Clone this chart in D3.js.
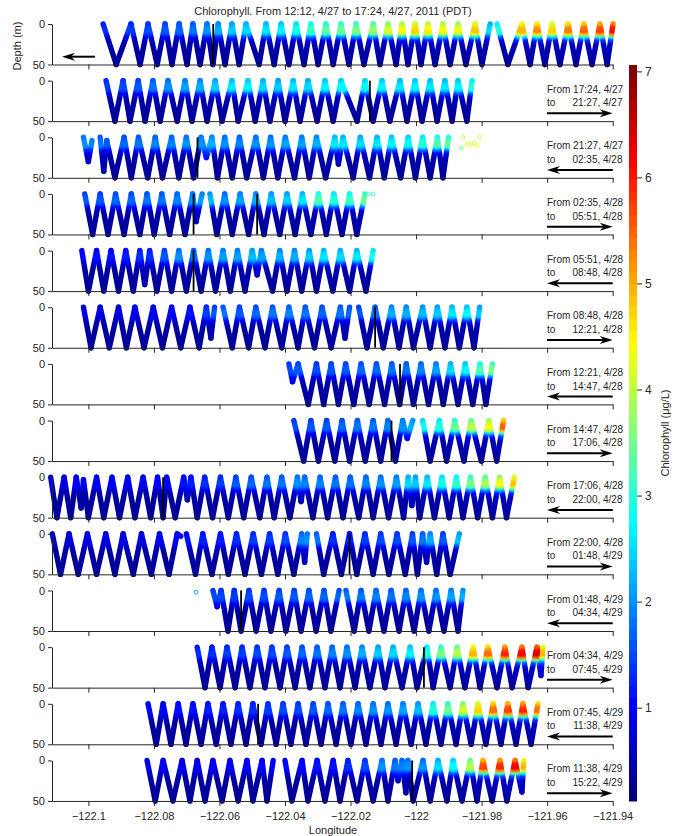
<!DOCTYPE html>
<html><head><meta charset="utf-8">
<script src="https://cdn.jsdelivr.net/npm/d3@7"></script>
<style>
body{margin:0;background:#fff}
svg text{font-family:"Liberation Sans",Arial,Helvetica,sans-serif;fill:#262626}
</style></head>
<body><svg id="c" width="682" height="836"></svg>
<script>
// ---------------- data ----------------
const titleText = "Chlorophyll. From 12:12, 4/27 to 17:24, 4/27, 2011 (PDT)";
const lonDomain = [-122.1111, -121.94];
const depthDomain = [0, 50];
const lonTicks = [-122.1, -122.08, -122.06, -122.04, -122.02, -122, -121.98, -121.96, -121.94];
const depthTicks = [0, 50];
const cbDomain = [0.12, 7.06];
const cbTicks = [1, 2, 3, 4, 5, 6, 7];
const panelFrom = ["12:12, 4/27","17:24, 4/27","21:27, 4/27","02:35, 4/28","05:51, 4/28","08:48, 4/28","12:21, 4/28","14:47, 4/28","17:06, 4/28","22:00, 4/28","01:48, 4/29","04:34, 4/29","07:45, 4/29","11:38, 4/29"];
const panelTo   = ["17:24, 4/27","21:27, 4/27","02:35, 4/28","05:51, 4/28","08:48, 4/28","12:21, 4/28","14:47, 4/28","17:06, 4/28","22:00, 4/28","01:48, 4/29","04:34, 4/29","07:45, 4/29","11:38, 4/29","15:22, 4/29"];
const panelDir  = [-1, 1, -1, 1, -1, 1, -1, 1, -1, 1, -1, 1, -1, 1];
// vertical shape of the upper chlorophyll layer (relative weight vs depth)
const profileDepth  = [0, 4, 10, 13, 16, 20, 25, 50];
const profileWeight = [0.85, 0.97, 1, 0.85, 0.5, 0.2, 0.05, 0];

// tracks: runs of [longitude, depth (m), chlorophyll (ug/L)]
const track1 = [
 [[-122.0955,0,1.3],[-122.0915,50,.3],[-122.0870,0,1.4],[-122.0842,50,.3],[-122.0818,0,1.5],[-122.0790,50,.3],[-122.0766,0,1.6],[-122.0745,50,.3],[-122.0723,0,1.7],[-122.0699,50,.3],[-122.0681,0,1.8],[-122.0659,50,.3],[-122.0638,0,2.0],[-122.0620,50,.3],[-122.0604,0,2.2],[-122.0583,50,.3],[-122.0562,0,2.4],[-122.0540,50,.3],[-122.0519,0,2.5],[-122.0479,50,.3],[-122.0458,0,2.6],[-122.0433,50,.3],[-122.0412,0,2.7],[-122.0388,50,.3],[-122.0366,0,2.9],[-122.0342,50,.3],[-122.0321,0,3.2],[-122.0299,50,.3],[-122.0275,0,3.4],[-122.0253,50,.3],[-122.0229,0,3.5],[-122.0205,50,.3],[-122.0183,0,3.6],[-122.0159,50,.3],[-122.0131,0,3.8],[-122.0110,50,.3],[-122.0086,0,4.2],[-122.0061,50,.3],[-122.0043,0,4.5],[-122.0025,50,.3],[-122.0003,0,4.8],[-121.9985,50,.3],[-121.9964,0,4.6],[-121.9942,50,.3],[-121.9918,0,4.5],[-121.9896,50,.3],[-121.9872,0,4.4],[-121.9848,50,.3],[-121.9820,0,4.9],[-121.9799,50,.3],[-121.9774,0,2.5]],
 [[-121.9753,0,3.0],[-121.9720,50,.3],[-121.9677,0,5.0],[-121.9652,50,.3],[-121.9631,0,5.3],[-121.9607,50,.3],[-121.9585,0,4.8],[-121.9561,50,.3],[-121.9536,0,5.4],[-121.9512,50,.3],[-121.9488,0,5.6],[-121.9463,50,.3],[-121.9439,0,5.8],[-121.9417,50,.3],[-121.9399,0,6.2]]
];
const track2 = [
 [[-122.0946,0,1.4],[-122.0919,50,.3],[-122.0894,0,1.5],[-122.0873,50,.3],[-122.0848,0,1.6],[-122.0827,50,.3],[-122.0803,0,1.8],[-122.0781,50,.3],[-122.0757,0,2.0],[-122.0729,50,.3],[-122.0705,0,2.1],[-122.0684,50,.3],[-122.0659,0,2.2],[-122.0638,50,.3],[-122.0613,0,2.4],[-122.0592,50,.3],[-122.0562,0,2.6],[-122.0543,50,.3],[-122.0513,0,2.7],[-122.0491,50,.3],[-122.0467,0,2.5],[-122.0446,50,.3],[-122.0421,0,2.4],[-122.0400,50,.3],[-122.0375,0,2.6],[-122.0354,50,.3],[-122.0330,0,2.5],[-122.0302,50,.3],[-122.0278,0,2.7],[-122.0253,50,.3],[-122.0229,0,2.8],[-122.0180,50,.3],[-122.0156,0,2.8],[-122.0131,50,.3],[-122.0104,0,2.7],[-122.0080,50,.3],[-122.0049,0,2.6],[-122.0028,50,.3],[-122.0003,0,2.7],[-121.9982,50,.3],[-121.9957,0,2.6],[-121.9936,50,.3],[-121.9912,0,2.6],[-121.9890,50,.3],[-121.9872,0,2.7],[-121.9845,50,.3],[-121.9829,0,3.0]]
];
const track3 = [
 [[-122.1015,0,2.0],[-122.1000,30,0.5],[-122.0989,4,1.9]],
 [[-122.0964,0,1.8],[-122.0953,42,0.4],[-122.0944,4,1.6],[-122.0919,50,.3],[-122.0891,0,1.7],[-122.0869,50,.3],[-122.0847,0,1.8],[-122.0819,50,.3],[-122.0796,0,1.9],[-122.0774,50,.3],[-122.0746,0,1.9],[-122.0724,50,.3],[-122.0701,0,2.0],[-122.0679,50,.3],[-122.0656,0,2.0],[-122.0640,25,1.0],[-122.0623,0,2.2],[-122.0606,50,.3],[-122.0584,0,2.0],[-122.0561,50,.3],[-122.0539,0,1.9],[-122.0517,50,.3],[-122.0489,0,2.0],[-122.0466,50,.3],[-122.0444,0,2.0],[-122.0422,50,.3],[-122.0399,0,2.1],[-122.0371,50,.3],[-122.0349,0,2.1],[-122.0326,50,.3],[-122.0304,0,2.2],[-122.0276,50,.3],[-122.0248,0,2.6],[-122.0237,33,0.5],[-122.0223,0,2.6],[-122.0192,50,.3],[-122.0170,0,2.5],[-122.0142,50,.3],[-122.0119,0,2.6],[-122.0097,50,.3],[-122.0075,0,2.7],[-122.0047,50,.3],[-122.0024,0,2.8],[-122.0002,50,.3],[-121.9980,0,3.0],[-121.9957,50,.3],[-121.9935,0,3.3],[-121.9918,50,.3],[-121.9901,0,3.4]]
];
const track4 = [
 [[-122.1011,0,1.6],[-122.0987,50,.3],[-122.0964,0,1.6],[-122.0940,50,.3],[-122.0917,0,1.7],[-122.0891,50,.3],[-122.0869,0,1.7],[-122.0843,50,.3],[-122.0821,0,1.8],[-122.0799,50,.3],[-122.0776,0,1.8],[-122.0752,50,.3],[-122.0729,0,1.9],[-122.0705,50,.3],[-122.0682,0,2.0],[-122.0671,34,0.5],[-122.0653,0,2.1]],
 [[-122.0629,0,2.3],[-122.0608,50,.3],[-122.0584,0,2.0],[-122.0561,50,.3],[-122.0537,0,2.1],[-122.0511,50,.3],[-122.0489,0,2.2],[-122.0464,50,.3],[-122.0442,0,2.3],[-122.0416,50,.3],[-122.0394,0,2.4],[-122.0369,50,.3],[-122.0347,0,2.6],[-122.0321,50,.3],[-122.0298,0,3.3],[-122.0274,50,.3],[-122.0251,0,3.0],[-122.0226,50,.3],[-122.0203,0,3.2],[-122.0181,50,.3],[-122.0156,0,3.5]]
];
const track5 = [
 [[-122.1020,0,1.0],[-122.1000,50,.3],[-122.0975,0,1.1],[-122.0953,50,.3],[-122.0931,0,1.1],[-122.0908,50,.3],[-122.0886,0,1.2],[-122.0863,50,.3],[-122.0843,0,1.3],[-122.0828,42,0.4],[-122.0813,0,1.3],[-122.0791,50,.3],[-122.0768,0,1.6],[-122.0746,50,.3],[-122.0724,0,2.0],[-122.0701,50,.3],[-122.0679,0,1.8],[-122.0656,50,.3],[-122.0634,0,2.0],[-122.0612,50,.3],[-122.0589,0,2.1],[-122.0567,50,.3],[-122.0545,0,2.1],[-122.0522,50,.3],[-122.0500,0,2.3],[-122.0485,30,0.6],[-122.0472,0,2.1],[-122.0438,50,.3],[-122.0416,0,2.2],[-122.0394,50,.3],[-122.0371,0,2.2],[-122.0349,50,.3],[-122.0326,0,2.4],[-122.0304,50,.3],[-122.0282,0,2.6],[-122.0254,50,.3],[-122.0231,0,2.5],[-122.0203,50,.3],[-122.0181,0,2.6],[-122.0153,50,.3],[-122.0131,0,2.9]]
];
const track6 = [
 [[-122.1015,0,0.8],[-122.0992,50,.3],[-122.0964,0,0.8],[-122.0936,50,.3],[-122.0908,0,0.8],[-122.0884,50,.3],[-122.0858,0,0.9],[-122.0830,50,.3],[-122.0802,0,0.9],[-122.0774,50,.3],[-122.0746,0,1.0],[-122.0718,50,.3],[-122.0690,0,1.1],[-122.0662,50,.3],[-122.0640,0,1.4],[-122.0626,38,0.4],[-122.0615,0,1.6]],
 [[-122.0589,0,1.8],[-122.0561,50,.3],[-122.0539,0,1.6],[-122.0511,50,.3],[-122.0489,0,1.7],[-122.0461,50,.3],[-122.0438,0,1.8],[-122.0410,50,.3],[-122.0388,0,1.9],[-122.0360,50,.3],[-122.0338,0,1.8],[-122.0310,50,.3],[-122.0287,0,1.7],[-122.0259,50,.3],[-122.0231,0,1.8],[-122.0217,38,0.4],[-122.0203,0,1.7]],
 [[-122.0175,0,1.6],[-122.0150,50,.3],[-122.0125,0,1.8],[-122.0100,50,.3],[-122.0075,0,2.2],[-122.0052,50,.3],[-122.0030,0,2.2],[-122.0008,50,.3],[-121.9980,0,2.3],[-121.9957,50,.3],[-121.9935,0,2.4],[-121.9912,50,.3],[-121.9890,0,2.6],[-121.9868,50,.3],[-121.9845,0,2.7],[-121.9823,50,.3],[-121.9806,0,2.4]]
];
const track7 = [
 [[-122.0388,0,1.5],[-122.0377,22,0.6],[-122.0360,0,1.6],[-122.0329,50,.3],[-122.0304,0,1.5],[-122.0282,50,.3],[-122.0259,0,1.6],[-122.0237,50,.3],[-122.0215,0,1.6],[-122.0190,50,.3],[-122.0168,0,1.7],[-122.0143,50,.3],[-122.0121,0,1.7],[-122.0096,50,.3],[-122.0074,0,1.8],[-122.0050,50,.3],[-122.0030,0,1.8],[-122.0008,50,.3],[-121.9985,0,1.9],[-121.9962,50,.3],[-121.9939,0,2.1],[-121.9917,50,.3],[-121.9895,0,2.5],[-121.9872,50,.3],[-121.9850,0,2.7],[-121.9827,50,.3],[-121.9805,0,3.3],[-121.9787,50,.3],[-121.9767,0,3.6]]
];
const track8 = [
 [[-122.0373,0,1.5],[-122.0343,50,.3],[-122.0321,0,1.6],[-122.0298,50,.3],[-122.0273,0,1.6],[-122.0248,50,.3],[-122.0226,0,1.7],[-122.0203,50,.3],[-122.0179,0,1.8],[-122.0155,50,.3],[-122.0131,0,1.8],[-122.0108,50,.3],[-122.0086,0,1.9],[-122.0063,50,.3],[-122.0041,0,2.0],[-122.0027,22,0.7],[-122.0010,0,2.2]],
 [[-121.9980,0,2.8],[-121.9957,50,.3],[-121.9929,0,3.0],[-121.9907,50,.3],[-121.9882,0,3.5],[-121.9854,50,.3],[-121.9832,0,4.0],[-121.9801,50,.3],[-121.9778,0,4.4],[-121.9754,50,.3],[-121.9733,0,5.6]]
];
const track9 = [
 [[-122.1115,0,0.8],[-122.1096,50,.3],[-122.1074,0,0.8],[-122.1054,50,.3],[-122.1037,0,0.9],[-122.1022,38,0.4],[-122.1015,3,0.9],[-122.1000,50,.3],[-122.0975,0,0.9],[-122.0953,50,.3],[-122.0928,0,0.9],[-122.0905,50,.3],[-122.0880,0,0.9],[-122.0858,50,.3],[-122.0833,0,0.9],[-122.0810,50,.3],[-122.0789,0,1.0],[-122.0772,50,.3],[-122.0761,0,1.0],[-122.0735,50,.3],[-122.0709,0,1.1],[-122.0698,28,0.5],[-122.0687,0,1.2],[-122.0668,50,.3],[-122.0645,0,1.3],[-122.0621,50,.3],[-122.0597,0,1.4],[-122.0573,50,.3],[-122.0550,0,1.6],[-122.0526,50,.3],[-122.0503,0,1.7],[-122.0477,50,.3],[-122.0455,0,1.8],[-122.0433,50,.3],[-122.0410,0,1.8],[-122.0385,50,.3],[-122.0362,0,2.0],[-122.0351,30,0.5],[-122.0340,0,1.9],[-122.0315,50,.3],[-122.0293,0,1.9],[-122.0270,50,.3],[-122.0246,0,1.8],[-122.0223,50,.3],[-122.0201,0,1.8],[-122.0175,50,.3],[-122.0153,0,1.9],[-122.0131,50,.3],[-122.0108,0,2.0],[-122.0084,50,.3],[-122.0060,0,2.1],[-122.0038,50,.3],[-122.0024,0,2.5],[-122.0013,35,0.5],[-122.0002,0,2.4],[-121.9989,50,.3],[-121.9966,0,2.6],[-121.9944,50,.3],[-121.9921,0,2.9],[-121.9899,50,.3],[-121.9877,0,3.1],[-121.9857,50,.3],[-121.9834,0,3.6],[-121.9812,50,.3],[-121.9789,0,3.9],[-121.9767,50,.3],[-121.9745,0,4.4],[-121.9724,50,.3],[-121.9700,0,4.9]]
];
const track10 = [
 [[-122.1110,0,0.7],[-122.1085,50,.3],[-122.1059,0,0.7],[-122.1031,50,.3],[-122.1003,0,0.8],[-122.0975,50,.3],[-122.0947,0,0.8],[-122.0919,50,.3],[-122.0894,0,0.8],[-122.0863,50,.3],[-122.0838,0,0.8],[-122.0808,50,.3],[-122.0783,0,0.9],[-122.0754,50,.3],[-122.0729,0,1.0],[-122.0718,3,1.1]],
 [[-122.0701,0,1.1],[-122.0673,50,.3],[-122.0651,0,1.2],[-122.0623,50,.3],[-122.0597,0,1.2],[-122.0573,50,.3],[-122.0548,0,1.3],[-122.0522,50,.3],[-122.0497,0,1.4],[-122.0472,50,.3],[-122.0447,0,1.4],[-122.0422,50,.3],[-122.0399,0,1.5],[-122.0373,50,.3],[-122.0349,0,1.9],[-122.0340,35,0.5],[-122.0332,0,2.0]],
 [[-122.0304,0,1.8],[-122.0282,50,.3],[-122.0254,0,1.3],[-122.0228,50,.3],[-122.0203,0,1.2],[-122.0181,50,.3],[-122.0156,0,1.4],[-122.0131,50,.3],[-122.0108,0,1.5],[-122.0083,50,.3],[-122.0058,0,1.5],[-122.0033,50,.3],[-122.0011,0,1.6],[-121.9996,50,.3],[-121.9980,0,1.8],[-121.9968,35,0.5],[-121.9957,0,2.2],[-121.9937,50,.3],[-121.9918,0,1.6],[-121.9896,50,.3],[-121.9868,0,2.3]]
];
const track11 = [
 [[-122.0620,0,1.5],[-122.0607,20,0.6],[-122.0595,0,1.5],[-122.0574,50,.3],[-122.0555,0,1.4],[-122.0534,50,.3],[-122.0510,0,1.5],[-122.0488,50,.3],[-122.0464,0,1.5],[-122.0443,50,.3],[-122.0418,0,1.6],[-122.0397,50,.3],[-122.0372,0,1.6],[-122.0351,50,.3],[-122.0327,0,1.7],[-122.0305,50,.3],[-122.0281,0,1.7],[-122.0260,50,.3],[-122.0235,0,1.7]],
 [[-122.0214,0,1.8],[-122.0189,50,.3],[-122.0168,0,1.8],[-122.0144,50,.3],[-122.0122,0,1.9],[-122.0098,50,.3],[-122.0076,0,1.8],[-122.0052,50,.3],[-122.0031,0,1.9],[-122.0006,50,.3],[-121.9985,0,2.0],[-121.9961,50,.3],[-121.9939,0,2.0],[-121.9915,50,.3],[-121.9893,0,2.1],[-121.9872,50,.3],[-121.9857,0,2.2]]
];
const track12 = [
 [[-122.0668,0,1.3],[-122.0644,50,.3],[-122.0623,0,1.3],[-122.0598,50,.3],[-122.0577,0,1.4],[-122.0552,50,.3],[-122.0531,0,1.4],[-122.0507,50,.3],[-122.0485,0,1.5],[-122.0461,50,.3],[-122.0440,0,1.5],[-122.0415,50,.3],[-122.0394,0,1.6],[-122.0369,50,.3],[-122.0348,0,1.7],[-122.0324,50,.3],[-122.0302,0,1.8],[-122.0278,50,.3],[-122.0256,0,1.9],[-122.0232,50,.3],[-122.0211,0,2.0],[-122.0186,50,.3],[-122.0165,0,2.2],[-122.0141,50,.3],[-122.0116,0,2.4],[-122.0095,50,.3],[-122.0070,0,2.5],[-122.0043,50,.3],[-122.0018,0,2.7],[-121.9997,50,.3],[-121.9967,0,3.0],[-121.9948,50,.3],[-121.9924,0,3.6],[-121.9896,50,.3],[-121.9875,0,4.0],[-121.9851,50,.3],[-121.9826,0,5.0],[-121.9805,50,.3],[-121.9781,0,5.5],[-121.9753,50,.3],[-121.9729,0,6.0],[-121.9707,50,.3],[-121.9677,0,6.3],[-121.9658,50,.3],[-121.9631,0,6.5],[-121.9619,35,0.5],[-121.9613,0,5.0]]
];
const track13 = [
 [[-122.0818,0,1.0],[-122.0793,50,.3],[-122.0772,0,1.0],[-122.0748,50,.3],[-122.0726,0,1.1],[-122.0702,50,.3],[-122.0681,0,1.1],[-122.0656,50,.3],[-122.0635,0,1.2],[-122.0610,50,.3],[-122.0589,0,1.2],[-122.0565,50,.3],[-122.0543,0,1.3],[-122.0519,50,.3],[-122.0498,0,1.3],[-122.0473,50,.3],[-122.0452,0,1.4],[-122.0427,50,.3],[-122.0406,0,1.5],[-122.0382,50,.3],[-122.0360,0,1.5],[-122.0336,50,.3],[-122.0314,0,1.6],[-122.0290,50,.3],[-122.0269,0,1.7],[-122.0244,50,.3],[-122.0223,0,1.8],[-122.0199,50,.3],[-122.0177,0,1.9],[-122.0153,50,.3],[-122.0131,0,2.0],[-122.0107,50,.3],[-122.0086,0,2.0],[-122.0061,50,.3],[-122.0040,0,2.1],[-122.0015,50,.3],[-121.9994,0,2.3],[-121.9970,50,.3],[-121.9948,0,3.0],[-121.9924,50,.3],[-121.9903,0,3.5],[-121.9878,50,.3],[-121.9857,0,4.2],[-121.9832,50,.3],[-121.9811,0,4.8],[-121.9787,50,.3],[-121.9765,0,5.5],[-121.9741,50,.3],[-121.9720,0,5.8],[-121.9695,50,.3],[-121.9674,0,6.0],[-121.9649,50,.3],[-121.9628,0,5.5]]
];
const track14 = [
 [[-122.0821,0,0.9],[-122.0796,50,.3],[-122.0772,0,0.9],[-122.0742,50,.3],[-122.0714,0,0.9],[-122.0690,50,.3],[-122.0668,0,0.9],[-122.0644,50,.3],[-122.0620,0,0.9],[-122.0592,50,.3],[-122.0568,0,0.9],[-122.0543,50,.3],[-122.0516,0,1.0],[-122.0498,50,.3],[-122.0470,0,1.0],[-122.0455,50,.3],[-122.0436,0,1.0]],
 [[-122.0400,0,1.0],[-122.0379,50,.3],[-122.0348,0,1.0],[-122.0330,50,.3],[-122.0302,0,1.1],[-122.0278,50,.3],[-122.0253,0,1.1],[-122.0232,50,.3],[-122.0208,0,1.3],[-122.0180,50,.3],[-122.0156,0,1.5],[-122.0131,50,.3],[-122.0104,0,2.0],[-122.0086,50,.3],[-122.0064,0,1.8],[-122.0055,25,0.6],[-122.0043,0,1.9],[-122.0031,40,0.4],[-122.0025,0,2.0],[-122.0009,50,.3],[-121.9979,0,2.0],[-121.9957,50,.3],[-121.9933,0,2.5],[-121.9906,50,.3],[-121.9887,0,2.8],[-121.9860,50,.3],[-121.9835,0,4.0],[-121.9814,50,.3],[-121.9796,0,5.8],[-121.9768,50,.3],[-121.9744,0,6.0],[-121.9723,50,.3],[-121.9698,0,6.3],[-121.9677,39,0.4],[-121.9671,0,5.0]]
];
const tracks = [track1, track2, track3, track4, track5, track6, track7, track8, track9, track10, track11, track12, track13, track14];
// isolated samples drawn as small circles: [panel, lon, depth, chl]
const looseSamples = [
 [2,-121.9862,13,3.5],[2,-121.9857,0,4.0],[2,-121.9845,8,4.2],[2,-121.9834,9,4.3],[2,-121.9823,7,4.0],[2,-121.9814,10,4.5],[2,-121.9806,0,4.0],
 [3,-122.0147,0,3.2],[3,-122.0131,0,3.0],
 [10,-122.0671,2,2.0]
];
// black vertical marker lines: [panel, lon]
const markerLines = [[0,-122.0619],[1,-122.0141],[2,-122.0667],[3,-122.0679],[3,-122.0485],[4,-122.0679],[5,-122.0125],[6,-122.0049],[7,-122.0075],[8,-122.0772],[9,-122.0203],[10,-122.0534],[11,-121.9976],[12,-122.0482],[13,-122.0012]];

// ---------------- drawing ----------------
const plotL = 52, plotR = 612.7;
const panelStep = 56.65, panelH = 40.5, firstTop = 24;
const svg = d3.select("#c");
const defs = svg.append("defs");
const x = d3.scaleLinear().domain(lonDomain).range([plotL, plotR]);
const cNorm = d3.scaleLinear().domain(cbDomain).range([0, 1]).clamp(true);
const wScale = d3.scaleLinear().domain(profileDepth).range(profileWeight).clamp(true);
const cl = u => Math.max(0, Math.min(1, u));
function jetT(t){ return d3.rgb(255*cl(1.5-Math.abs(4*t-3)), 255*cl(1.5-Math.abs(4*t-2)), 255*cl(1.5-Math.abs(4*t-1))).formatHex(); }
const jet = v => jetT(cNorm(v));
const fmtLon = v => (v < 0 ? "\u2212" : "") + (+Math.abs(v).toFixed(2));
const FONT = '"Liberation Sans",Arial,Helvetica,sans-serif';

svg.append("text").attr("x", 333).attr("y", 15).attr("text-anchor", "middle")
  .attr("font-size", 11).text(titleText);

function arrow(g, xTail, xTip, yy){
  const d = Math.sign(xTip - xTail);
  g.append("line").attr("x1", xTail).attr("x2", xTip - d*6).attr("y1", yy).attr("y2", yy)
    .attr("stroke", "#000").attr("stroke-width", 2);
  g.append("path").attr("d", `M${xTip},${yy}L${xTip-d*13},${yy-4}L${xTip-d*9},${yy}L${xTip-d*13},${yy+4}Z`)
    .attr("fill", "#000");
}

tracks.forEach((track, p) => {
  const top = firstTop + p*panelStep;
  const y = d3.scaleLinear().domain(depthDomain).range([top, top + panelH]);
  const g = svg.append("g");
  track.forEach((run, r) => {
    for (let k = 0; k < run.length - 1; k++){
      const a = run[k], b = run[k+1];
      const sh = a[1] <= b[1] ? a : b, dp = a[1] <= b[1] ? b : a;
      const cT = sh[2], cD = dp[2];
      const chlAt = dd => cD + (cT - cD)*wScale(dd);
      const id = `g${p}_${r}_${k}`;
      const grad = defs.append("linearGradient").attr("id", id).attr("gradientUnits", "userSpaceOnUse")
        .attr("x1", x(a[0])).attr("y1", y(a[1])).attr("x2", x(b[0])).attr("y2", y(b[1]));
      const d0 = a[1], d1 = b[1];
      let offs = [0, 1];
      if (Math.abs(d1 - d0) > 0.01){
        profileDepth.forEach(pd => { if ((pd - d0)*(pd - d1) < 0) offs.push((pd - d0)/(d1 - d0)); });
      }
      offs.sort((m, n) => m - n).forEach(o => {
        grad.append("stop").attr("offset", o).attr("stop-color", jet(chlAt(d0 + o*(d1 - d0))));
      });
      g.append("line").attr("x1", x(a[0])).attr("y1", y(a[1])).attr("x2", x(b[0])).attr("y2", y(b[1]))
        .attr("stroke", `url(#${id})`).attr("stroke-width", 5.4).attr("stroke-linecap", "round");
    }
  });
  looseSamples.filter(s => s[0] === p).forEach(s => {
    g.append("circle").attr("cx", x(s[1])).attr("cy", y(s[2])).attr("r", 1.9)
      .attr("fill", "none").attr("stroke", jet(s[3])).attr("stroke-width", 0.9);
  });
  markerLines.filter(m => m[0] === p).forEach(m => {
    g.append("line").attr("x1", x(m[1])).attr("x2", x(m[1])).attr("y1", y(0)).attr("y2", y(50))
      .attr("stroke", "#000").attr("stroke-width", 1.8);
  });
  const ax = g.append("g").attr("transform", `translate(0,${top + panelH})`)
    .call(d3.axisBottom(x).tickValues(lonTicks).tickSize(5).tickSizeOuter(0).tickPadding(6)
      .tickFormat(p === tracks.length - 1 ? fmtLon : ""));
  const ay = g.append("g").attr("transform", `translate(${plotL},0)`)
    .call(d3.axisLeft(y).tickValues(depthTicks).tickSize(4).tickSizeOuter(0).tickPadding(3));
  [ax, ay].forEach(a => {
    a.attr("font-family", FONT).attr("font-size", 11);
    a.selectAll("path,line").attr("stroke", "#262626");
    a.selectAll("text").attr("fill", "#262626");
  });
  const ly = top + 32.7;
  if (p === 0){
    arrow(g, 95, 62, ly);
  } else {
    g.append("text").attr("x", 547).attr("y", top + 12).attr("font-size", 10).text("From " + panelFrom[p]);
    g.append("text").attr("x", 547).attr("y", top + 25.6).attr("font-size", 10).text("to");
    g.append("text").attr("x", 622.5).attr("y", top + 25.6).attr("font-size", 10).attr("text-anchor", "end").text(panelTo[p]);
    if (panelDir[p] > 0) arrow(g, 547, 612.7, ly); else arrow(g, 612.7, 547, ly);
  }
});

svg.append("text").attr("transform", "translate(21,46) rotate(-90)").attr("text-anchor", "middle")
  .attr("font-size", 11).text("Depth (m)");
svg.append("text").attr("x", 333).attr("y", 834).attr("text-anchor", "middle")
  .attr("font-size", 11).text("Longitude");

const cbX = 629, cbW = 8, cbTop = 65, cbBot = 801;
const cy = d3.scaleLinear().domain(cbDomain).range([cbBot, cbTop]);
const nBands = 64;
const bands = d3.range(nBands);
const cb = svg.append("g");
cb.selectAll("rect").data(bands).join("rect")
  .attr("x", cbX).attr("width", cbW)
  .attr("y", k => cbBot - (k+1)*(cbBot - cbTop)/nBands)
  .attr("height", (cbBot - cbTop)/nBands + 0.5)
  .attr("fill", k => jetT(k/(nBands-1)));
const cax = cb.append("g").attr("transform", `translate(${cbX + cbW},0)`)
  .call(d3.axisRight(cy).tickValues(cbTicks).tickSize(5).tickSizeOuter(0).tickPadding(3).tickFormat(d3.format("d")));
cax.select(".domain").remove();
cax.attr("font-family", FONT).attr("font-size", 12);
cax.selectAll("line").attr("stroke", "#262626");
cax.selectAll("text").attr("fill", "#262626");
svg.append("text").attr("transform", `translate(669,${(cbTop + cbBot)/2}) rotate(-90)`).attr("text-anchor", "middle")
  .attr("font-size", 11).text("Chlorophyll (\u03bcg/L)");
</script></body></html>
